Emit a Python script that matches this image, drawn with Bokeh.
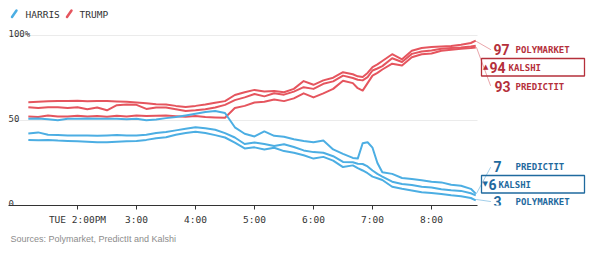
from bokeh.plotting import figure
from bokeh.models import Range1d, FixedTicker, Label, Arrow, BoxAnnotation, Title
from bokeh.core.properties import value
from bokeh.embed import file_html
from bokeh.resources import INLINE

# time in minutes after noon (Tuesday)
minutes = [70, 80, 90, 100, 110, 120, 130, 140, 150, 160, 170, 180, 190, 200, 210, 220, 230, 240, 250, 260,
           270, 280, 290, 300, 310, 320, 330, 340, 350, 360, 370, 380, 390, 400, 405, 410, 415, 420, 425, 430,
           440, 450, 460, 470, 480, 490, 500, 510, 520, 525]

trump_polymarket = [60.8, 61.0, 61.3, 61.5, 61.4, 61.6, 61.3, 61.5, 61.5, 61.2, 61.0, 60.6, 60.2, 59.6, 59.4, 58.6, 58.0, 58.6, 59.4, 60.4,
                    61.4, 65.0, 66.6, 68.0, 67.0, 67.4, 66.6, 68.6, 73.2, 71.0, 73.6, 75.2, 78.4, 77.2, 76.0, 75.6, 78.0, 81.4, 83.0, 85.0,
                    89.0, 86.0, 91.0, 92.6, 93.2, 93.6, 93.8, 94.6, 95.6, 97.0]
trump_kalshi = [57.8, 57.4, 57.8, 57.8, 57.4, 57.8, 56.6, 57.6, 56.0, 59.0, 59.4, 59.2, 56.8, 57.6, 57.6, 56.6, 55.6, 56.0, 56.6, 57.6,
                59.2, 62.0, 63.6, 65.6, 64.2, 66.0, 65.2, 67.0, 69.6, 68.6, 71.6, 73.0, 76.4, 75.0, 74.0, 73.6, 75.5, 79.4, 80.6, 82.0,
                86.6, 84.4, 89.2, 90.6, 91.2, 92.2, 92.6, 93.0, 93.6, 94.0]
trump_predictit = [52.4, 52.0, 53.0, 52.4, 52.4, 52.8, 52.4, 52.6, 52.2, 52.8, 52.4, 53.0, 52.6, 52.8, 52.9, 52.5, 52.2, 52.6, 52.0, 51.8,
                   51.6, 57.4, 58.6, 60.6, 61.0, 62.4, 61.4, 63.0, 66.0, 63.6, 66.0, 68.6, 73.4, 72.0, 69.0, 67.6, 72.0, 76.4, 78.0, 80.0,
                   83.4, 82.4, 87.2, 89.0, 89.4, 91.0, 91.6, 92.2, 92.6, 93.0]

harris_polymarket = [38.6, 38.4, 38.6, 38.2, 38.0, 37.8, 37.5, 37.2, 37.2, 37.5, 37.8, 38.0, 38.6, 39.6, 40.2, 41.6, 42.6, 43.4, 42.6, 41.4,
                     40.0, 37.0, 33.6, 34.2, 33.0, 34.0, 32.0, 31.0, 29.6, 27.6, 28.6, 26.4, 22.6, 23.6, 22.0, 20.6, 19.0, 17.0, 16.0, 15.0,
                     11.0, 9.8, 8.8, 7.8, 7.4, 6.8, 6.0, 5.4, 4.4, 3.0]
harris_kalshi = [42.4, 43.0, 41.6, 41.4, 41.2, 41.2, 41.2, 41.0, 41.2, 41.4, 41.2, 41.2, 41.6, 42.6, 43.2, 44.2, 45.2, 46.0, 45.4, 44.6,
                 42.6, 40.0, 36.2, 37.0, 36.2, 35.0, 36.0, 34.4, 32.4, 31.4, 31.0, 29.0, 25.6, 25.4, 24.6, 24.4, 23.0, 20.6, 18.6, 17.0,
                 14.0, 12.6, 12.0, 11.0, 10.6, 9.6, 9.0, 8.6, 7.2, 6.0]
harris_predictit = [51.0, 51.2, 50.8, 50.2, 51.0, 51.0, 51.2, 51.0, 51.0, 51.0, 50.8, 51.0, 50.2, 50.6, 51.4, 52.0, 53.0, 54.0, 55.0, 55.6,
                    54.4, 46.0, 42.2, 40.6, 43.6, 41.0, 40.4, 39.0, 38.0, 37.2, 38.2, 33.0, 30.4, 28.0, 27.6, 36.6, 37.2, 34.0, 25.0, 19.6,
                    18.6, 16.2, 15.6, 14.8, 14.0, 13.6, 12.2, 11.6, 9.8, 7.0]

tick_minutes = [120, 180, 240, 300, 360, 420, 480]
tick_labels = ["TUE 2:00PM", "3:00", "4:00", "5:00", "6:00", "7:00", "8:00"]
y_ticks = [0, 50, 100]
y_tick_labels = ["0", "50", "100%"]
grid_values = [50, 100]
legend_names = ["HARRIS", "TRUMP"]
source_text = "Sources: Polymarket, PredictIt and Kalshi"

RED = "#e5555e"
BLUE = "#4caee3"
RED_TXT = "#b5303b"
BLUE_TXT = "#1f6a9e"
MONO = "DejaVu Sans Mono"

AX_LO, AX_HI = 49.83, 526.8   # axis extent (minutes)

p = figure(width=600, height=254, x_range=Range1d(41.695, 651.86), y_range=Range1d(0, 120.59),
           toolbar_location=None, output_backend="svg",
           min_border_left=0, min_border_right=0, min_border_top=0, min_border_bottom=49)
p.outline_line_color = None
p.background_fill_color = "white"
p.border_fill_color = "white"
p.yaxis.visible = False
p.xgrid.visible = False
p.ygrid.visible = False

ax = p.xaxis[0]
ax.bounds = (AX_LO, AX_HI)
ax.ticker = FixedTicker(ticks=tick_minutes)
ax.major_label_overrides = {t: l for t, l in zip(tick_minutes, tick_labels)}
ax.axis_line_color = "#333333"
ax.major_tick_line_color = "#333333"
ax.major_tick_in = 0
ax.major_tick_out = 4
ax.minor_tick_line_color = None
ax.major_label_text_font = MONO
ax.major_label_text_font_size = "9.5px"
ax.major_label_text_color = "#333333"
ax.major_label_standoff = 4

p.add_layout(Title(text=source_text, align="left", offset=10, text_font="Liberation Sans",
                   text_font_size="9px", text_color="#8c8c8c", text_font_style="normal",
                   standoff=9), "below")

# horizontal gridlines limited to the axis extent
p.segment(x0=[AX_LO] * len(grid_values), x1=[AX_HI] * len(grid_values), y0=grid_values, y1=grid_values,
          line_color="#ebebeb", line_width=1)

# y tick labels drawn above gridlines
p.text(x=[AX_LO] * 3, y=y_ticks, text=y_tick_labels, text_font=value(MONO),
       text_font_size="9px", text_color="#333333", text_baseline="alphabetic", text_align="left",
       y_offset=-2)

for ys in (trump_predictit, trump_kalshi, trump_polymarket):
    p.line(minutes, ys, line_color=RED, line_width=2, line_join="round")
for ys in (harris_polymarket, harris_kalshi, harris_predictit):
    p.line(minutes, ys, line_color=BLUE, line_width=2, line_join="round")

FL, FB = 0, 205
def sx(cx):
    return cx - FL
def sy(cy):
    return FB - cy

def lab(cx, cy, text, size, color, font=MONO, style="normal"):
    p.add_layout(Label(x=sx(cx), y=sy(cy), x_units="screen", y_units="screen", text=text,
                       text_font=font, text_font_size=f"{size}px", text_color=color,
                       text_align="left", text_baseline="middle", text_font_style=style))

def seg(x0, y0, x1, y1, color, w=1.0):
    p.add_layout(Arrow(x_start=sx(x0), y_start=sy(y0), x_end=sx(x1), y_end=sy(y1),
                       start_units="screen", end_units="screen", end=None,
                       line_color=color, line_width=w, line_cap="round"))

def box(l, t, r, b, color):
    p.add_layout(BoxAnnotation(left=sx(l), right=sx(r), top=sy(t), bottom=sy(b),
                               left_units="screen", right_units="screen", top_units="screen", bottom_units="screen",
                               fill_color=None, fill_alpha=0, line_color=color, line_alpha=1.0, line_width=1.3))

# legend
seg(11.5, 16.5, 16, 10, BLUE, 2.5)
lab(25, 13.5, legend_names[0], 9.5, "#333333")
seg(66.5, 16.5, 71, 10, RED, 2.5)
lab(79, 13.5, legend_names[1], 9.5, "#333333")

# right-side end labels
t_vals = [round(trump_polymarket[-1]), round(trump_kalshi[-1]), round(trump_predictit[-1])]
h_vals = [round(harris_predictit[-1]), round(harris_kalshi[-1]), round(harris_polymarket[-1])]

NUMF = "Roboto"
NUMS = 14
# Trump
seg(476, 41, 490, 49, "#eaa6ab")
seg(476, 47, 490, 85, "#eaa6ab")
lab(493, 49, str(t_vals[0]), NUMS, RED_TXT, font=NUMF, style="bold")
lab(515, 49.5, "POLYMARKET", 9, RED_TXT, style="bold")
box(481, 58, 584, 75.5, RED_TXT)
lab(482.5, 66.5, "\u25b2", 7, RED_TXT, font="DejaVu Sans")
lab(489, 66.5, str(t_vals[1]), NUMS, RED_TXT, font=NUMF, style="bold")
lab(508, 67, "KALSHI", 9, RED_TXT, style="bold")
lab(494, 85.5, str(t_vals[2]), NUMS, RED_TXT, font=NUMF, style="bold")
lab(515, 86, "PREDICTIT", 9, RED_TXT, style="bold")

# Harris
seg(476, 193, 490, 167, "#a3cfea")
seg(476, 199, 490, 201, "#a3cfea")
lab(493, 165.5, str(h_vals[0]), NUMS, BLUE_TXT, font=NUMF, style="bold")
lab(515, 166, "PREDICTIT", 9, BLUE_TXT, style="bold")
box(481, 175, 584, 192.5, BLUE_TXT)
lab(482, 183.5, "\u25bc", 7, BLUE_TXT, font="DejaVu Sans")
lab(488, 183.5, str(h_vals[1]), NUMS, BLUE_TXT, font=NUMF, style="bold")
lab(498, 184, "KALSHI", 9, BLUE_TXT, style="bold")
lab(493, 201, str(h_vals[2]), NUMS, BLUE_TXT, font=NUMF, style="bold")
lab(515, 201.5, "POLYMARKET", 9, BLUE_TXT, style="bold")

open("out.html", "w").write(file_html(p, INLINE))
